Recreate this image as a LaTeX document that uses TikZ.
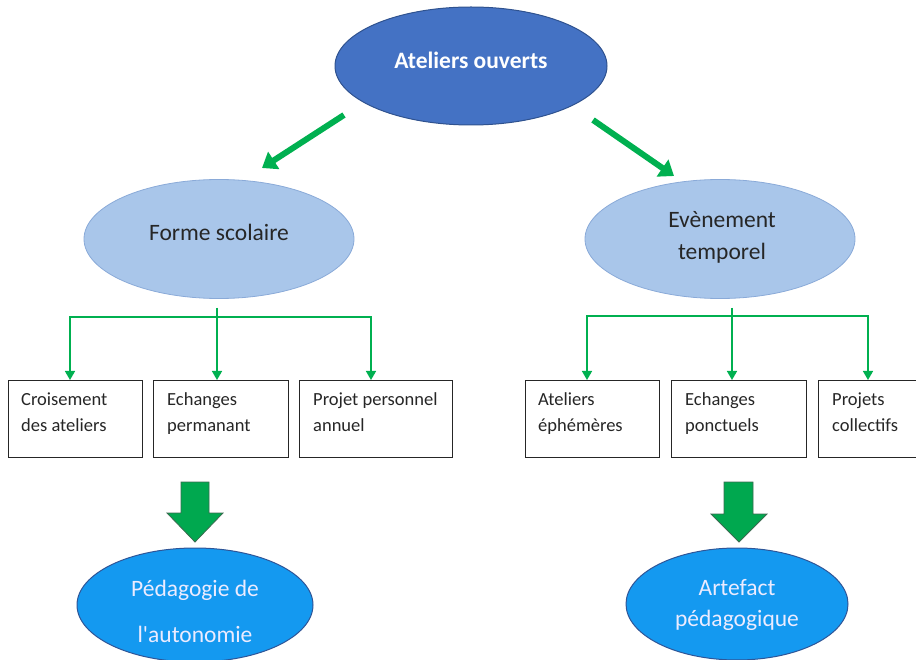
\documentclass[tikz,border=0pt]{standalone}
\usepackage{fontspec}
\setmainfont{Carlito}
\usetikzlibrary{shapes.geometric,arrows.meta,calc}
\definecolor{topblue}{HTML}{4472C4}
\definecolor{topborder}{HTML}{2F528F}
\definecolor{midblue}{HTML}{A9C6EA}
\definecolor{midborder}{HTML}{8AAAD8}
\definecolor{botblue}{HTML}{1499F0}
\definecolor{botborder}{HTML}{2F5597}
\definecolor{gr}{HTML}{00B050}
\definecolor{blockgr}{HTML}{00A84F}
\definecolor{blockborder}{HTML}{3A6B50}
\begin{document}
\begin{tikzpicture}[x=1pt,y=-1pt,
  topell/.style={ellipse,draw=topborder,line width=1pt,fill=topblue,minimum width=272pt,minimum height=118pt,inner sep=0pt},
  midell/.style={ellipse,draw=midborder,line width=0.8pt,fill=midblue,minimum width=270pt,minimum height=119pt,inner sep=0pt},
  botell/.style={ellipse,draw=botborder,line width=1pt,fill=botblue,inner sep=0pt},
  leaf/.style={rectangle,draw=black!85,line width=1.1pt,minimum height=77pt,inner sep=0pt,anchor=north west},
  leaftext/.style={anchor=base west,align=left,inner sep=0pt,font=\fontsize{18.5}{25}\selectfont,text=black!85},
  midtext/.style={align=center,inner sep=0pt,font=\fontsize{23.5}{32}\selectfont,text=black!85},
  bottext/.style={align=center,inner sep=0pt,font=\fontsize{23.5}{31}\selectfont,text=white!92!blue},
  thin/.style={draw=gr,line width=1.5pt},
  thinarrow/.style={thin,-{Triangle[length=9pt,width=10pt]}},
  bigarrow/.style={draw=gr,line width=6pt,-{Triangle[length=14pt,width=20pt]}},
  block/.style={fill=blockgr,draw=blockborder,line width=0.8pt,line join=miter}
]
\useasboundingbox (0,0) rectangle (916,660);
\clip (0,0) rectangle (916,660);

% top
\node[topell] (top) at (471,66) {};
\node[inner sep=0pt,font=\fontsize{23.5}{28}\selectfont\bfseries,text=white] (toptext) at (471,60) {Ateliers ouverts};

% middle
\node[midell] (forme) at (219,239) {};
\node[midtext] (formetext) at (219,232) {Forme scolaire};
\node[midell] (event) at (720,239) {};
\node[midtext] (eventtext) at (722,237) {Evènement\\temporel};

% big diagonal arrows
\coordinate (la1) at (344,115);
\coordinate (la2) at (262,168);
\coordinate (ra1) at (593,120);
\coordinate (ra2) at (674,176);
\draw[bigarrow] (la1) -- (la2);
\draw[bigarrow] (ra1) -- (ra2);

% left boxes
\node[leaf,minimum width=134pt] (b1) at (8,380) {};
\node[leaf,minimum width=135pt] (b2) at (153,380) {};
\node[leaf,minimum width=153pt] (b3) at (299,380) {};
\node[leaftext] (t1) at (21,431) {Croisement\\des ateliers};
\node[leaftext] (t2) at (167,431) {Echanges\\permanant};
\node[leaftext] (t3) at (313,431) {Projet personnel\\annuel};

% right boxes
\node[leaf,minimum width=134pt] (b4) at (525,380) {};
\node[leaf,minimum width=135pt] (b5) at (671,380) {};
\node[leaf,minimum width=110pt] (b6) at (818,380) {};
\node[leaftext] (t4) at (538,431) {Ateliers\\éphémères};
\node[leaftext] (t5) at (685,431) {Echanges\\ponctuels};
\node[leaftext] (t6) at (832,431) {Projets\\collectifs};

% left tree
\coordinate (ls) at (217,308);
\coordinate (lj) at (217,317);
\draw[thin] (ls) -- (lj);
\draw[thinarrow] (lj) -| (b1.north -| 70,0);
\draw[thinarrow] (ls) -- (b2.north -| ls);
\draw[thinarrow] (lj) -| (b3.north -| 371,0);

% right tree
\coordinate (rs) at (732,308);
\coordinate (rj) at (732,316);
\draw[thin] (rs) -- (rj);
\draw[thinarrow] (rj) -| (b4.north -| 587,0);
\draw[thinarrow] (rs) -- (b5.north -| rs);
\draw[thinarrow] (rj) -| (b6.north -| 868,0);

% bottom ellipses
\node[botell,minimum width=236pt,minimum height=114pt] (ped) at (195,605) {};
\node[bottext,font=\fontsize{23.5}{46}\selectfont] (pedtext) at (195,611) {Pédagogie de\\l\textquotesingle autonomie};
\node[botell,minimum width=222pt,minimum height=112pt] (art) at (737,604) {};
\node[bottext] (arttext) at (737,605) {Artefact\\pédagogique};

% block arrows
\draw[block] (181,482) -- (209,482) -- (209,513) -- (223,513) -- (195,542) -- (167,513) -- (181,513) -- cycle;
\draw[block] (724,482) -- (753,482) -- (753,514) -- (767,514) -- (739,542) -- (711,514) -- (724,514) -- cycle;
\end{tikzpicture}
\end{document}
